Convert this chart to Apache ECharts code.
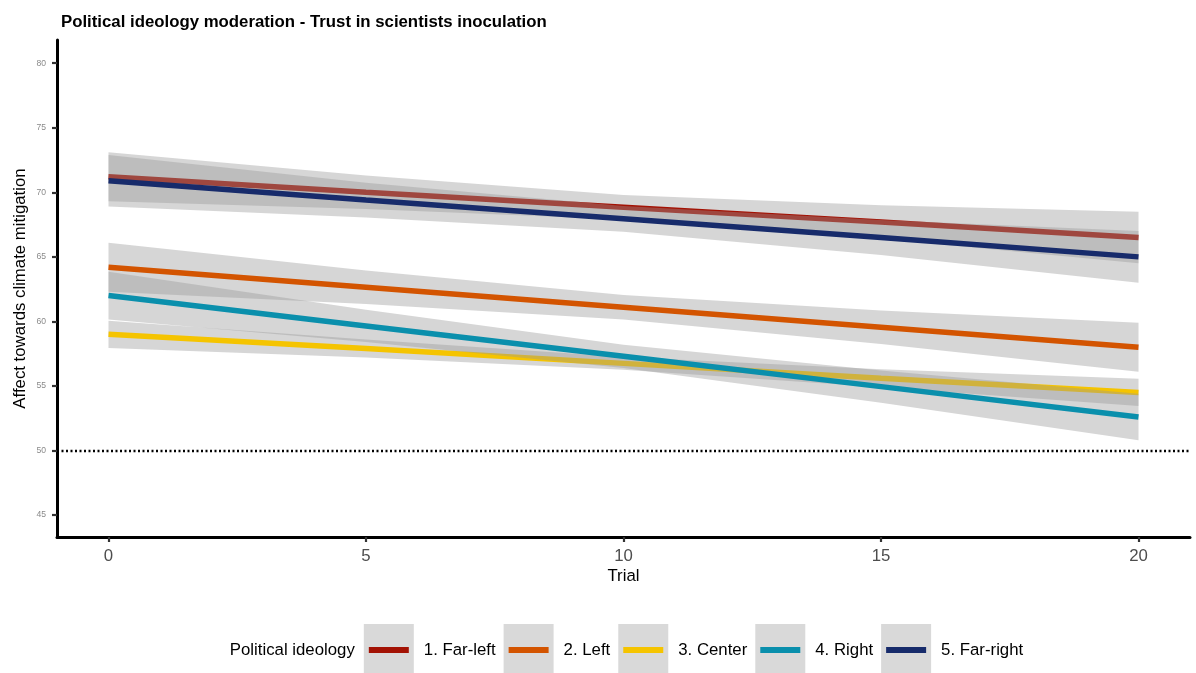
<!DOCTYPE html>
<html>
<head>
<meta charset="utf-8">
<script src="https://cdn.jsdelivr.net/npm/echarts@6/dist/echarts.min.js"></script>
<style>
html,body{margin:0;padding:0;background:#fff;}
#chart{width:1196px;height:673px;}
</style>
</head>
<body>
<div id="chart"></div>
<script>
// ---- data ----
const trials = [0, 5, 10, 15, 20];
const groups = ['1. Far-left', '2. Left', '3. Center', '4. Right', '5. Far-right'];
const groupColors = ['#a31204', '#d35400', '#f5c400', '#0a8fac', '#172b6b'];

const farLeftFit   = [71.2, 70.0, 68.85, 67.7, 66.5];
const farLeftLow   = [69.3, 68.7, 67.9, 66.4, 64.5];
const farLeftHigh  = [73.1, 71.3, 69.8, 69.0, 68.5];

const leftFit      = [64.2, 62.65, 61.1, 59.55, 58.0];
const leftLow      = [62.3, 61.35, 60.15, 58.25, 56.1];
const leftHigh     = [66.1, 63.95, 62.05, 60.85, 59.9];

const centerFit    = [59.0, 57.9, 56.75, 55.6, 54.5];
const centerLow    = [57.95, 57.2, 56.25, 54.9, 53.45];
const centerHigh   = [60.05, 58.6, 57.25, 56.3, 55.55];

const rightFit     = [62.0, 59.65, 57.3, 54.95, 52.6];
const rightLow     = [60.15, 58.4, 56.4, 53.7, 50.8];
const rightHigh    = [63.85, 60.9, 58.2, 56.2, 54.4];

const farRightFit  = [70.9, 69.4, 67.95, 66.5, 65.0];
const farRightLow  = [68.9, 68.05, 66.95, 65.15, 63.0];
const farRightHigh = [72.9, 70.75, 68.95, 67.85, 67.0];

const xTicks = [0, 5, 10, 15, 20];
const yTicks = [45, 50, 55, 60, 65, 70, 75, 80];
const referenceLevel = 50;

const fits = [farLeftFit, leftFit, centerFit, rightFit, farRightFit];
const lows = [farLeftLow, leftLow, centerLow, rightLow, farRightLow];
const highs = [farLeftHigh, leftHigh, centerHigh, rightHigh, farRightHigh];

// ---- chart ----
const chart = echarts.init(document.getElementById('chart'), null, {renderer: 'canvas'});
const FONT = '"Liberation Sans", Arial, sans-serif';

const series = [];
groups.forEach((g, gi) => {
  const low = lows[gi], high = highs[gi];
  series.push({
    type: 'custom',
    name: g + ' CI',
    silent: true,
    data: trials.map((t, i) => [t, low[i], high[i]]),
    renderItem: function (params, api) {
      if (params.dataIndex !== 0) return null;
      const pts = [];
      for (let i = 0; i < trials.length; i++) pts.push(api.coord([trials[i], high[i]]));
      for (let i = trials.length - 1; i >= 0; i--) pts.push(api.coord([trials[i], low[i]]));
      return {
        type: 'polygon',
        shape: {points: pts},
        style: {fill: 'rgba(153,153,153,0.4)', stroke: null}
      };
    },
    encode: {x: 0, y: [1, 2]},
    z: 2 + gi * 2
  });
  series.push({
    type: 'line',
    name: g,
    data: trials.map((t, i) => [t, fits[gi][i]]),
    showSymbol: false,
    symbol: 'none',
    lineStyle: {color: groupColors[gi], width: 5.5, cap: 'butt'},
    itemStyle: {color: groupColors[gi]},
    silent: true,
    z: 3 + gi * 2
  });
});
// dotted reference line at 50
series.push({
  type: 'line',
  name: 'ref',
  data: [],
  silent: true,
  markLine: {
    silent: true,
    symbol: ['none', 'none'],
    label: {show: false},
    lineStyle: {color: '#000', type: [2, 2.5], width: 2.4},
    data: [{yAxis: referenceLevel}]
  },
  z: 30
});

const option = {
  backgroundColor: '#fff',
  animation: false,
  title: {
    text: 'Political ideology moderation - Trust in scientists inoculation',
    left: 56, top: 9,
    textStyle: {fontFamily: FONT, fontSize: 16.8, fontWeight: 'bold', color: '#000'}
  },
  grid: {left: 57, right: 6, top: 40, bottom: 136, containLabel: false},
  xAxis: {
    type: 'value',
    min: -1, max: 21,
    name: 'Trial',
    nameLocation: 'middle',
    nameGap: 31,
    nameMoveOverlap: false,
    nameTextStyle: {fontFamily: FONT, fontSize: 16.8, color: '#000'},
    axisLine: {show: true, onZero: false, lineStyle: {color: '#000', width: 3}},
    axisTick: {show: true, customValues: xTicks, length: 5, lineStyle: {color: '#333', width: 2.2}},
    axisLabel: {customValues: xTicks, margin: 11, fontFamily: FONT, fontSize: 16.8, color: '#4d4d4d'},
    splitLine: {show: false},
    z: 40
  },
  yAxis: {
    type: 'value',
    min: 43.3, max: 81.8,
    name: 'Affect towards climate mitigation',
    nameLocation: 'middle',
    nameGap: 28,
    nameMoveOverlap: false,
    nameTextStyle: {fontFamily: FONT, fontSize: 16.8, color: '#000'},
    axisLine: {show: true, onZero: false, lineStyle: {color: '#000', width: 3}},
    axisTick: {show: true, customValues: yTicks, length: 5, lineStyle: {color: '#333', width: 2.2}},
    axisLabel: {customValues: yTicks, margin: 11, fontFamily: FONT, fontSize: 8.6, color: '#8a8a8a'},
    splitLine: {show: false},
    z: 40
  },
  series: series
};
chart.setOption(option);

// ---- legend drawn as graphic elements from groups/colours ----
const LFS = 16.8;
const ctx = document.createElement('canvas').getContext('2d');
ctx.font = LFS + 'px ' + FONT;
const tw = s => ctx.measureText(s).width;
const legendTitle = 'Political ideology';
const BOX = 50, GAP_IN = 10, GAP_OUT = 8, TITLE_GAP = 9;
let total = tw(legendTitle) + TITLE_GAP;
groups.forEach((g, i) => { total += BOX + GAP_IN + tw(g) + (i < groups.length - 1 ? GAP_OUT : 0); });
const centerX = 57 + (1196 - 6 - 57) / 2 + 3;
let x = centerX - total / 2;
const cy = 650;
const els = [];
els.push({type: 'text', x: x, y: cy, style: {text: legendTitle, font: LFS + 'px ' + FONT, fill: '#000', verticalAlign: 'middle', align: 'left'}});
x += tw(legendTitle) + TITLE_GAP;
groups.forEach((g, i) => {
  els.push({type: 'rect', shape: {x: x, y: 624, width: BOX, height: 50}, style: {fill: '#d9d9d9'}});
  els.push({type: 'rect', shape: {x: x + 5, y: cy - 3, width: BOX - 10, height: 6}, style: {fill: groupColors[i]}});
  x += BOX + GAP_IN;
  els.push({type: 'text', x: x, y: cy, style: {text: g, font: LFS + 'px ' + FONT, fill: '#000', verticalAlign: 'middle', align: 'left'}});
  x += tw(g) + GAP_OUT;
});
chart.setOption({graphic: els});
</script>
</body>
</html>
